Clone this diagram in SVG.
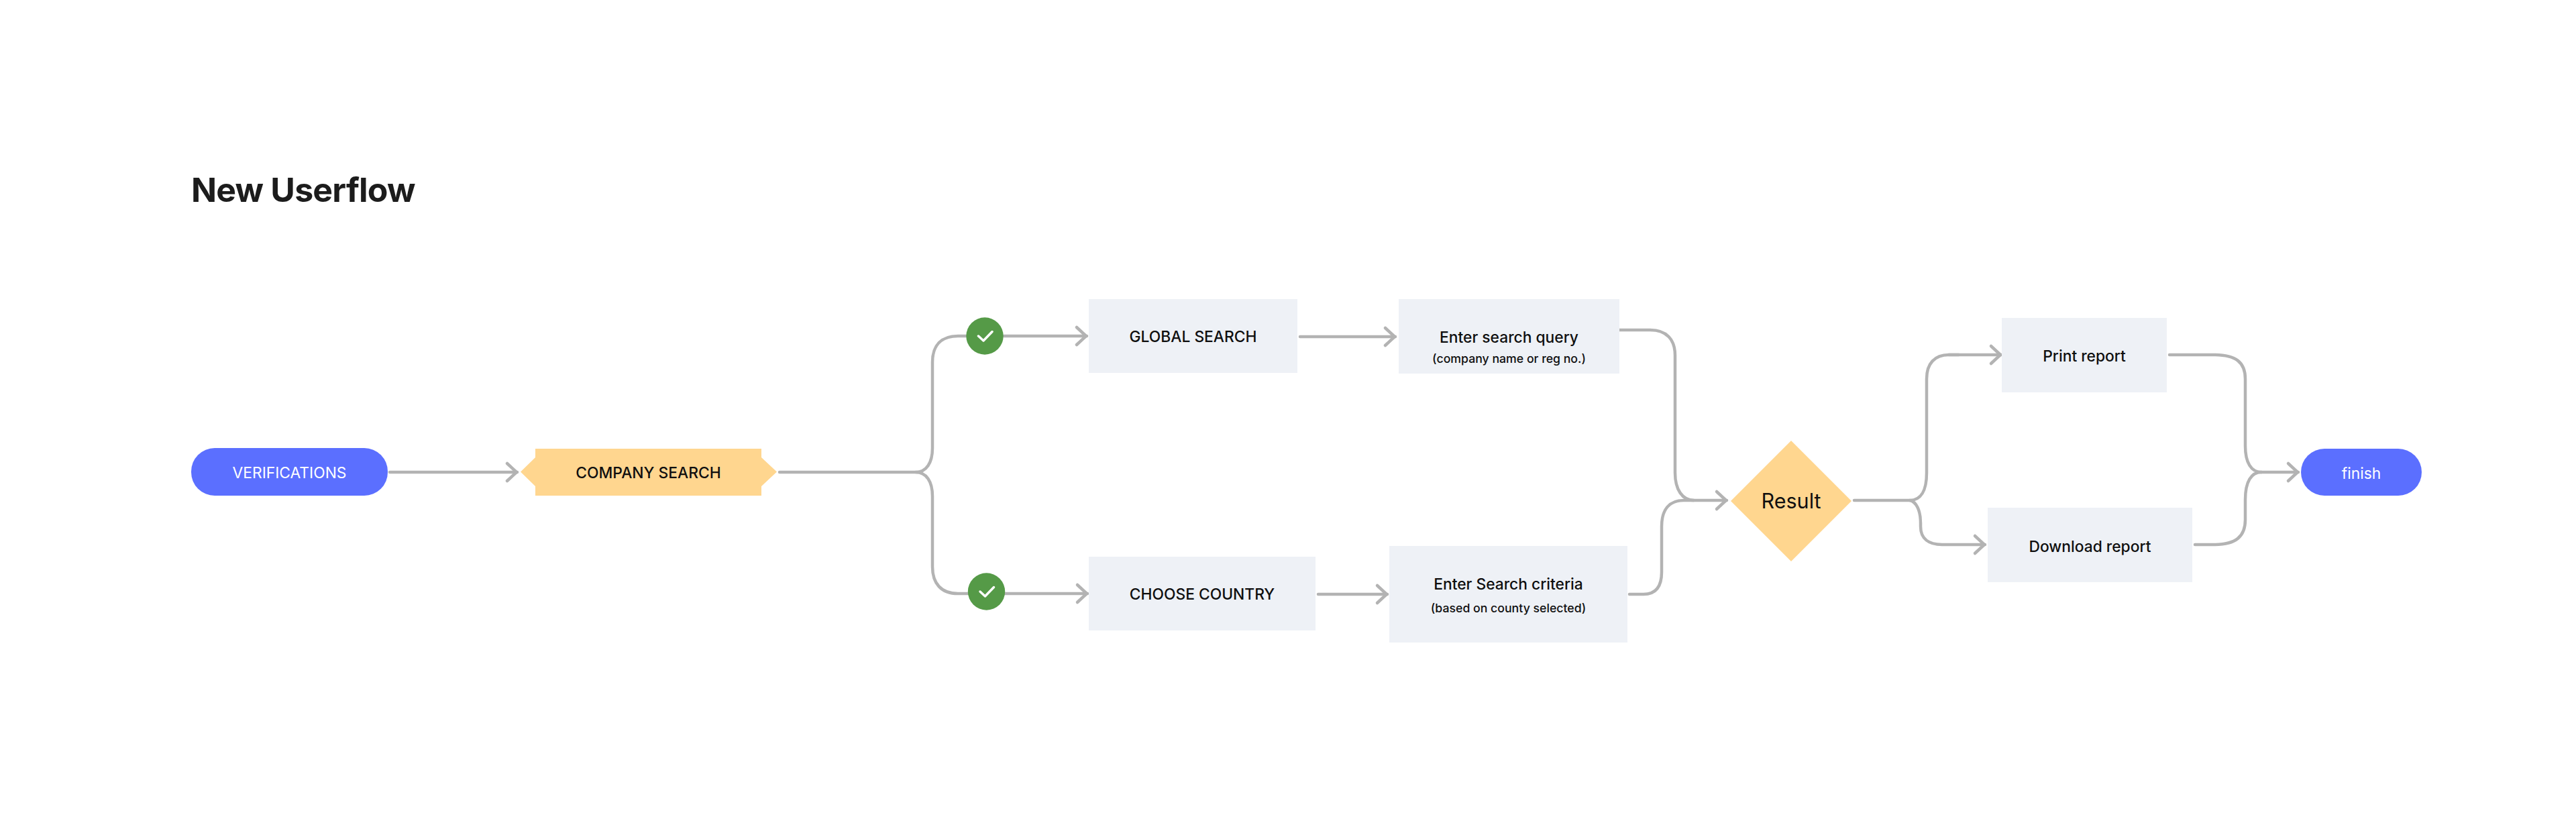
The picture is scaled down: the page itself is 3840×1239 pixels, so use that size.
<svg xmlns="http://www.w3.org/2000/svg" width="3840" height="1239" viewBox="0 0 3840 1239">
<style>
text{font-family:Inter,"Noto Sans","Liberation Sans",sans-serif;font-weight:500;text-anchor:middle;fill:#0f0f0f}
.t{font-size:22.800px}
.s{font-size:17.700px}
.w{fill:#fff;font-weight:400}
.box{fill:#EEF1F6}
.pill{fill:#5B6FFF}
.warm{fill:#FFD68F}
.badge{fill:#559A47}
.tick{fill:none;stroke:#fff;stroke-width:3.5;stroke-linecap:round;stroke-linejoin:round}
.c{fill:none;stroke:#B3B3B3;stroke-width:4.500;stroke-linecap:round}
.a{marker-end:url(#arrow)}
</style>
<defs>
<marker id="arrow" markerUnits="userSpaceOnUse" markerWidth="30" markerHeight="36" refX="20" refY="18" orient="auto" overflow="visible">
<path d="M5 5 L19 18 L5 31" fill="none" stroke="#B3B3B3" stroke-width="4.500" stroke-linecap="round" stroke-linejoin="round"/>
</marker>
</defs>
<rect width="3840" height="1239" fill="#fff"/>
<text id="title" x="285" y="301" style="font-size:50px;font-weight:700;letter-spacing:-0.800px;text-anchor:start;fill:#1c1c1c">New Userflow</text>
<g id="connectors">
<path class="c a" d="M581 704H771"/>
<path class="c" d="M1162 704H1365C1381 704 1390 690 1390 668V540C1390 515 1403 501 1428 501H1450"/>
<path class="c" d="M1365 704C1381 704 1390 718 1390 740V845C1390 870 1403 885 1428 885H1450"/>
<path class="c a" d="M1490 501H1620"/>
<path class="c a" d="M1492 885H1621"/>
<path class="c a" d="M1938 502H2080"/>
<path class="c a" d="M1965 886H2068"/>
<path class="c" d="M2414 492H2460C2484 492 2497 506 2497 530V705C2497 730 2508 746 2525 746"/>
<path class="c a" d="M2429 886H2450C2468 886 2477 875 2477 853V785C2477 760 2488 746 2510 746H2574"/>
<path class="c" d="M2764 746H2847C2863 746 2872 732 2872 705V565C2872 542 2884 529 2905 529H2920"/>
<path class="c a" d="M2905 529H2983"/>
<path class="c a" d="M2847 746C2856 748 2863 760 2863 780V785C2863 803 2875 812 2895 812H2959"/>
<path class="c" d="M3234 529H3300C3333 529 3347 540 3347 565V665C3347 690 3356 704 3371 704"/>
<path class="c" d="M3272 812H3300C3333 812 3347 800 3347 775V745C3347 718 3356 704 3371 704"/>
<path class="c a" d="M3371 704H3426"/>
</g>
<g id="n-verifications"><rect class="pill" x="285" y="668" width="293" height="71" rx="35" ry="35"/><text class="t w" x="431.500" y="712.500">VERIFICATIONS</text></g>
<g id="n-company-search"><polygon class="warm" points="798,669 1135,669 1135,682 1158,703.500 1135,725 1135,739 798,739 798,725 776,703.500 798,682"/><text class="t" x="966.500" y="712.500">COMPANY SEARCH</text></g>
<g id="n-check-1"><circle class="badge" cx="1468" cy="501" r="27.700"/><path class="tick" d="M1458.500 501L1466 508L1479 494.500"/></g>
<g id="n-check-2"><circle class="badge" cx="1470.500" cy="882" r="27.700"/><path class="tick" d="M1461 882L1468.500 889L1481.500 875.500"/></g>
<g id="n-global-search"><rect class="box" x="1623" y="446" width="311" height="110"/><text class="t" x="1778.500" y="509.500">GLOBAL SEARCH</text></g>
<g id="n-choose-country"><rect class="box" x="1623" y="830" width="338" height="110"/><text class="t" x="1792" y="893.500">CHOOSE COUNTRY</text></g>
<g id="n-enter-query"><rect class="box" x="2085" y="446" width="329" height="111"/><text class="t" x="2249.500" y="510.500">Enter search query</text><text class="s" x="2249.500" y="541">(company name or reg no.)</text></g>
<g id="n-enter-criteria"><rect class="box" x="2071" y="814" width="355" height="144"/><text class="t" x="2248.500" y="878.500">Enter Search criteria</text><text class="s" x="2248.500" y="913">(based on county selected)</text></g>
<g id="n-result"><polygon class="warm" points="2670,657 2760,747 2670,837 2580,747"/><text x="2670" y="757.500" style="font-size:30.500px;font-weight:400">Result</text></g>
<g id="n-print"><rect class="box" x="2984" y="474" width="246" height="111"/><text class="t" x="3107" y="538.500">Print report</text></g>
<g id="n-download"><rect class="box" x="2963" y="757" width="305" height="111"/><text class="t" x="3115.500" y="822.500">Download report</text></g>
<g id="n-finish"><rect class="pill" x="3430" y="669" width="180" height="70" rx="35" ry="35"/><text class="t w" x="3520" y="713.500">finish</text></g>
</svg>
